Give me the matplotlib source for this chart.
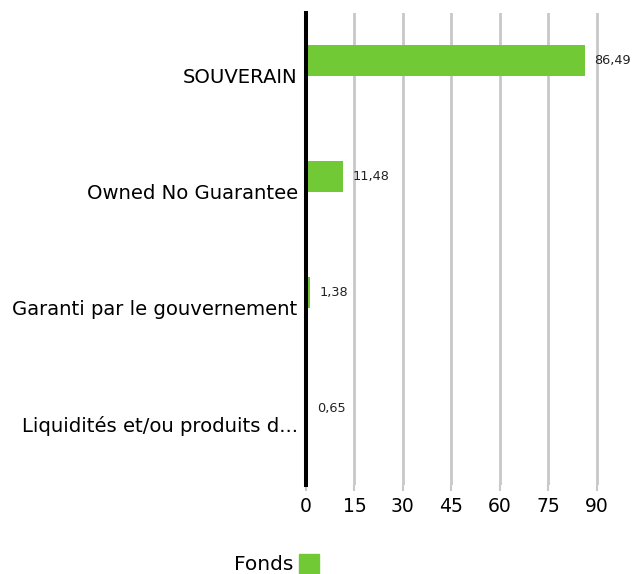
import matplotlib
matplotlib.use("Agg")
import matplotlib.pyplot as plt
from matplotlib.patches import Rectangle

categories = [
    "SOUVERAIN",
    "Owned No Guarantee",
    "Garanti par le gouvernement",
    "Liquidités et/ou produits d...",
]
values = [86.49, 11.48, 1.38, 0.65]
value_labels = ["86,49", "11,48", "1,38", "0,65"]
ticks = [0, 15, 30, 45, 60, 75, 90]
series_name = "Fonds"
green = "#72c936"

plt.rcParams["font.family"] = ["DejaVu Sans"]

fig = plt.figure(figsize=(6.33, 5.74), dpi=100)
ax = fig.add_axes([306 / 633, 1 - 485 / 574, 323 / 633, 472 / 574])

y = list(range(len(categories)))
ax.barh(y, values, height=0.26, color=green, zorder=3)
for yi, v, lab in zip(y, values, value_labels):
    ax.text(v + 2.8, yi, lab, va="center", ha="left", fontsize=9.3, color="#222222")

ax.set_xlim(0, 100)
ax.set_ylim(3.66, -0.41)
ax.set_xticks(ticks)
ax.set_xticklabels([str(t) for t in ticks], fontsize=13.5)
ax.set_yticks([yi + 0.13 for yi in y])
ax.set_yticklabels(categories, fontsize=14.1)
ax.tick_params(axis="y", length=0, pad=6)
ax.tick_params(axis="x", length=4, width=1.5, color="#c8c8c8", pad=5)
ax.grid(axis="x", color="#c8c8c8", linewidth=2, zorder=0)
for s in ["top", "right", "bottom"]:
    ax.spines[s].set_visible(False)
ax.spines["left"].set_linewidth(2.9)
ax.spines["left"].set_color("black")
ax.spines["left"].set_zorder(4)

fig.text(293 / 633, 1 - 564 / 574, series_name, ha="right", va="center", fontsize=14.5)
fig.patches.append(Rectangle((299 / 633, 1 - 574 / 574), 20 / 633, 20 / 574,
                             transform=fig.transFigure, color=green, figure=fig))

fig.savefig("out.png", dpi=100)
